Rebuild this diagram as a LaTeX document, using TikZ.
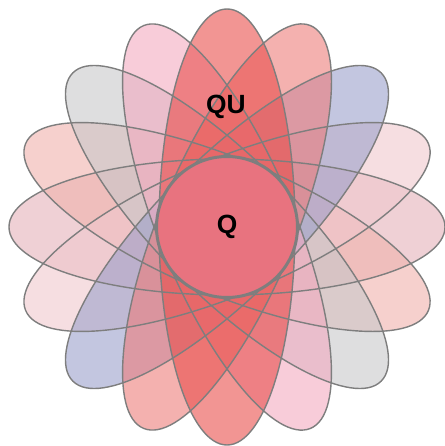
\documentclass[tikz,border=0pt]{standalone}
\usepackage{fontspec}
\setsansfont{Liberation Sans}
\usepackage{tikz}
\usetikzlibrary{positioning}
\definecolor{petalred}{HTML}{E94E4B}
\definecolor{petalpink}{HTML}{F3AAC0}
\definecolor{petalsalmon}{HTML}{ED7D7A}
\definecolor{petalgray}{HTML}{C8C8CA}
\definecolor{petalblue}{HTML}{9BA0CB}
\definecolor{petalrose}{HTML}{F0B1AC}
\definecolor{petalblush}{HTML}{F0C8CD}
\definecolor{petalmauve}{HTML}{E4B1B9}
\definecolor{corefill}{HTML}{E8737F}
\definecolor{rim}{HTML}{7E7E7E}

\begin{document}
\begin{tikzpicture}[font=\sffamily\bfseries,x=.02cm,y=.02cm,
  petal/.style={fill=#1,fill opacity=.6},
  rimline/.style={draw=rim,line width=.8pt}]
  \useasboundingbox (0,0) rectangle (444,446);
  \coordinate (ctr) at (227,219);
  \foreach \ang/\col in {90/petalmauve,67.5/petalrose,-67.5/petalblush,45/petalgray,
      -45/petalblue,22.5/petalpink,-22.5/petalsalmon,0/petalred}{
    \fill[petal=\col,rotate around={\ang:(ctr)}] (ctr) ellipse [x radius=68,y radius=218];
  }
  \foreach \ang in {0,22.5,...,157.5}{
    \draw[rimline,rotate around={\ang:(ctr)}] (ctr) ellipse [x radius=68,y radius=218];
  }
  \node[circle,fill=corefill,draw=rim,line width=1.7pt,minimum size=2.82cm,
    inner sep=0pt,font=\sffamily\bfseries\fontsize{15}{18}\selectfont] (core) at (ctr) {Q};
  \node[font=\sffamily\bfseries\fontsize{15}{18}\selectfont] (qu) at (226,339) {QU};
\end{tikzpicture}
\end{document}
